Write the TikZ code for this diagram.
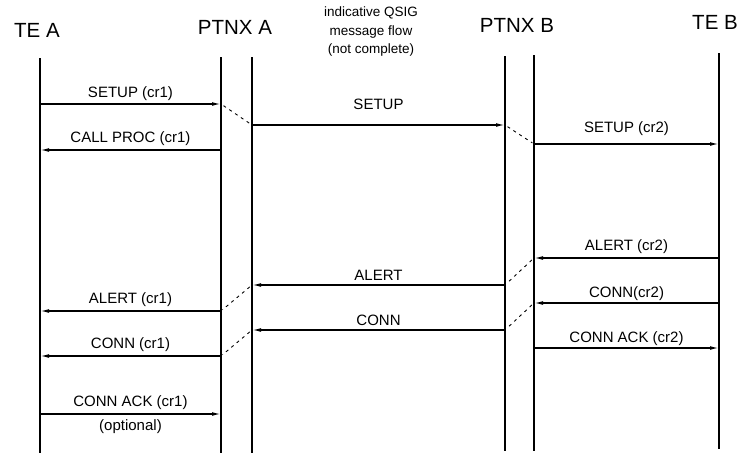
\documentclass[tikz,border=0pt]{standalone}
\usepackage{fontspec}
\setmainfont{Liberation Sans}
\usetikzlibrary{arrows.meta, positioning, calc}

\begin{document}
\begin{tikzpicture}[x=1pt, y=-1pt, >={Latex[length=9pt,width=3.8pt]},
  life/.style={line width=2.6pt},
  msg/.style={->, line width=1.3pt},
  link/.style={line width=0.9pt, dash pattern=on 3pt off 4pt, shorten <=3pt, shorten >=2pt},
  head/.style={font=\fontsize{20.5}{24}\selectfont, inner sep=0pt},
  lbl/.style={font=\fontsize{15}{18}\selectfont, midway, inner sep=0pt, above=#1},
  lbl/.default=4pt]

  \useasboundingbox (0,0) rectangle (739,455);

  % --- Entities ---
  \node[head] (teA) at (37,30) {TE A};
  \node[head] (ptnxA) at (235,27) {PTNX A};
  \node[head] (ptnxB) at (517,25) {PTNX B};
  \node[head] (teB) at (715,22) {TE B};
  \node[font=\fontsize{13.5}{18.5}\selectfont, align=center, inner sep=0pt] (note) at (371,32)
    {indicative QSIG\\message flow\\(not complete)};

  % --- Lifelines ---
  \coordinate (teA-top) at (40,58);   \coordinate (teA-bot) at (40,453);
  \coordinate (paL-top) at (221,57);  \coordinate (paL-bot) at (221,453);
  \coordinate (paR-top) at (252,57);  \coordinate (paR-bot) at (252,453);
  \coordinate (pbL-top) at (505,56);  \coordinate (pbL-bot) at (505,451);
  \coordinate (pbR-top) at (534,55);  \coordinate (pbR-bot) at (534,451);
  \coordinate (teB-top) at (719,53);  \coordinate (teB-bot) at (719,449);
  \foreach \l in {teA,paL,paR,pbL,pbR,teB}
    \draw[life] (\l-top) -- (\l-bot);

  % --- Call set-up ---
  \draw[msg] (teA-top |- 0,104) -- node[lbl=3pt] {SETUP (cr1)} (paL-top |- 0,104);
  \draw[link] (paL-top |- 0,104) -- (paR-top |- 0,125);
  \draw[msg] (paR-top |- 0,125) -- node[lbl=15pt] {SETUP} (pbL-top |- 0,125);
  \draw[link] (pbL-top |- 0,125) -- (pbR-top |- 0,144);
  \draw[msg] (pbR-top |- 0,144) -- node[lbl=8pt] {SETUP (cr2)} (teB-top |- 0,144);
  \draw[msg] (paL-top |- 0,150) -- node[lbl] {CALL PROC (cr1)} (teA-top |- 0,150);

  % --- Alerting ---
  \draw[msg] (teB-top |- 0,258) -- node[lbl] {ALERT (cr2)} (pbR-top |- 0,258);
  \draw[link] (pbR-top |- 0,258) -- (pbL-top |- 0,285);
  \draw[msg] (pbL-top |- 0,285) -- node[lbl] {ALERT} (paR-top |- 0,285);
  \draw[link] (paR-top |- 0,285) -- (paL-top |- 0,311);
  \draw[msg] (paL-top |- 0,311) -- node[lbl] {ALERT (cr1)} (teA-top |- 0,311);

  % --- Connect ---
  \draw[msg] (teB-top |- 0,303) -- node[lbl=2pt] {CONN(cr2)} (pbR-top |- 0,303);
  \draw[link] (pbR-top |- 0,303) -- (pbL-top |- 0,330);
  \draw[msg] (pbL-top |- 0,330) -- node[lbl] {CONN} (paR-top |- 0,330);
  \draw[link] (paR-top |- 0,330) -- (paL-top |- 0,356);
  \draw[msg] (paL-top |- 0,356) -- node[lbl] {CONN (cr1)} (teA-top |- 0,356);
  \draw[msg] (pbR-top |- 0,348) -- node[lbl=2pt] {CONN ACK (cr2)} (teB-top |- 0,348);
  \draw[msg] (teA-top |- 0,414) -- node[lbl] {CONN ACK (cr1)}
    node[font=\fontsize{15}{18}\selectfont, midway, inner sep=0pt, below=5pt] {(optional)}
    (paL-top |- 0,414);

\end{tikzpicture}
\end{document}
